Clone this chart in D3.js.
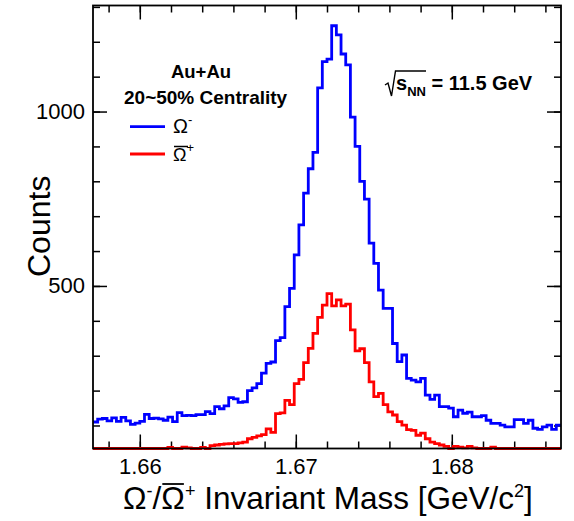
<!DOCTYPE html>
<html>
<head>
<meta charset="utf-8">
<style>
    body { margin: 0; background: #fff; }
    svg { display: block; font-family: 'Liberation Sans', Arial, Helvetica, sans-serif; }
    .bold { font-weight: bold; }
</style>
</head>
<body>
<svg width="574" height="521"></svg>

<script src="https://d3js.org/d3.v7.min.js"></script>
<script>
    // histogram binning: 100 bins of 0.3 MeV starting at 1.657 GeV
    const binLow = 1.657;
    const binWidth = 0.0003;

    // Omega- counts per bin (blue)
    const omegaMinus = [
        110, 118, 120, 113, 122, 112, 123, 113, 103, 107,
        112, 132, 120, 121, 119, 115, 124, 111, 137, 128,
        129, 128, 131, 131, 140, 134, 154, 148, 156, 180,
        176, 166, 168, 200, 208, 220, 250, 278, 282, 343,
        352, 441, 493, 589, 675, 766, 836, 883, 1068, 1143,
        1150, 1246, 1220, 1165, 1134, 984, 900, 800, 749, 623,
        565, 488, 436, 436, 335, 283, 302, 235, 230, 225,
        235, 187, 175, 187, 154, 154, 150, 125, 144, 135,
        138, 125, 125, 128, 115, 106, 106, 101, 96, 96,
        117, 117, 106, 115, 92, 89, 96, 101, 89, 101
    ];

    // anti-Omega+ counts per bin (red)
    const omegaPlusBar = [
        0, 0, 0, 0, 0, 0, 0, 0, 0, 0,
        0, 0, 0, 0, 0, 0, 37, 34, 0, 38,
        36, 0, 0, 37, 34, 42, 44, 46, 47, 48,
        48, 50, 52, 62, 66, 70, 74, 90, 80, 134,
        136, 172, 160, 220, 232, 280, 321, 364, 410, 445,
        478, 443, 460, 443, 448, 374, 314, 320, 280, 225,
        183, 192, 160, 139, 130, 111, 101, 88, 86, 72,
        78, 62, 52, 48, 44, 40, 34, 40, 38, 36,
        40, 36, 30, 30, 30, 38, 0, 0, 0, 0,
        0, 0, 0, 0, 0, 0, 0, 0, 0, 0
    ];

    const xMajor = [1.66, 1.67, 1.68];
    const yMajor = [500, 1000];

    let svg = d3.select("svg");

    let fLeft = 93, fRight = 561, fTop = 5.5, fBottom = 448.5;

    let x = d3.scaleLinear().domain([1.657, 1.687]).range([fLeft, fRight]);
    let y = d3.scaleLinear().domain([34, 1304]).range([fBottom, fTop]);
    let yc = y.copy().clamp(true);

    // minor ticks
    let xMinor = d3.range(0, 15).map(i => +(1.658 + i * 0.002).toFixed(3));
    let yMinor = d3.range(100, 1301, 100);

    function tickAxis(axis, transform) {
        let g = svg.append("g").attr("transform", transform).call(axis);
        g.select(".domain").remove();
        g.selectAll("line").attr("stroke", "#000").attr("stroke-width", 1.5);
        return g;
    }

    // left axis
    tickAxis(d3.axisLeft(y).tickValues(yMinor).tickSize(-7).tickFormat(""), `translate(${fLeft},0)`);
    let gl = tickAxis(d3.axisLeft(y).tickValues(yMajor).tickSize(-14).tickPadding(8).tickFormat(d3.format("d")), `translate(${fLeft},0)`);
    gl.selectAll("text").attr("font-size", 22).attr("fill", "#000").attr("font-family", "'Liberation Sans', Arial, sans-serif");

    // right axis (mirror)
    tickAxis(d3.axisRight(y).tickValues(yMinor).tickSize(-7).tickFormat(""), `translate(${fRight},0)`);
    tickAxis(d3.axisRight(y).tickValues(yMajor).tickSize(-14).tickFormat(""), `translate(${fRight},0)`);

    // bottom axis
    tickAxis(d3.axisBottom(x).tickValues(xMinor).tickSize(-7).tickFormat(""), `translate(0,${fBottom})`);
    let gb = tickAxis(d3.axisBottom(x).tickValues(xMajor).tickSize(-14).tickPadding(10).tickFormat(d3.format(".2f")), `translate(0,${fBottom})`);
    gb.selectAll("text").attr("font-size", 22).attr("fill", "#000").attr("font-family", "'Liberation Sans', Arial, sans-serif");

    // top axis (mirror)
    tickAxis(d3.axisTop(x).tickValues(xMinor).tickSize(-7).tickFormat(""), `translate(0,${fTop})`);
    tickAxis(d3.axisTop(x).tickValues(xMajor).tickSize(-14).tickFormat(""), `translate(0,${fTop})`);

    // histograms as steps
    let line = d3.line()
        .x(d => x(d[0]))
        .y(d => yc(d[1]))
        .curve(d3.curveStepAfter);

    function histPoints(values) {
        let pts = values.map((v, i) => [binLow + i * binWidth, v]);
        pts.push([binLow + values.length * binWidth, values[values.length - 1]]);
        return pts;
    }

    svg.append("path")
        .attr("d", line(histPoints(omegaMinus)))
        .attr("fill", "none")
        .attr("stroke", "#0000ff")
        .attr("stroke-width", 2.8);

    svg.append("path")
        .attr("d", line(histPoints(omegaPlusBar)))
        .attr("fill", "none")
        .attr("stroke", "#ff0000")
        .attr("stroke-width", 2.8);

    // frame
    svg.append("rect")
        .attr("x", fLeft).attr("y", fTop)
        .attr("width", fRight - fLeft).attr("height", fBottom - fTop)
        .attr("fill", "none").attr("stroke", "#000").attr("stroke-width", 1.8);

    // y title
    svg.append("text")
        .attr("transform", "translate(50,277) rotate(-90)")
        .attr("font-size", 32)
        .text("Counts");

    // x title
    let xt = svg.append("text")
        .attr("x", 123).attr("y", 509)
        .attr("font-size", 31.5);
    xt.append("tspan").text("Ω");
    xt.append("tspan").attr("font-size", 18).attr("dy", -12).text("-");
    xt.append("tspan").attr("dy", 12).text("/Ω");
    xt.append("tspan").attr("font-size", 18).attr("dy", -12).text("+");
    xt.append("tspan").attr("dy", 12).text(" Invariant Mass [GeV/c");
    xt.append("tspan").attr("font-size", 18).attr("dy", -12).text("2");
    xt.append("tspan").attr("dy", 12).text("]");
    {
        let n = xt.node();
        // overline over the second Omega (char index 3)
        let s = n.getStartPositionOfChar(3).x, e = n.getEndPositionOfChar(3).x;
        svg.append("line").attr("x1", s + 1).attr("x2", e - 1)
            .attr("y1", 484).attr("y2", 484).attr("stroke", "#000").attr("stroke-width", 1.8);
    }

    // labels
    svg.append("text").attr("class", "bold").attr("x", 201).attr("y", 78)
        .attr("text-anchor", "middle").attr("font-size", 18.5).text("Au+Au");
    svg.append("text").attr("class", "bold").attr("x", 124).attr("y", 104)
        .attr("font-size", 19).text("20~50% Centrality");

    // legend
    svg.append("line").attr("x1", 130).attr("x2", 165).attr("y1", 126.7).attr("y2", 126.7)
        .attr("stroke", "#0000ff").attr("stroke-width", 2.8);
    svg.append("line").attr("x1", 130).attr("x2", 165).attr("y1", 154).attr("y2", 154)
        .attr("stroke", "#ff0000").attr("stroke-width", 2.8);

    let l1 = svg.append("text").attr("x", 173).attr("y", 133).attr("font-size", 20);
    l1.append("tspan").text("Ω");
    l1.append("tspan").attr("font-size", 13).attr("dy", -9).text("-");

    let l2 = svg.append("text").attr("x", 173).attr("y", 161).attr("font-size", 18);
    l2.append("tspan").text("Ω");
    l2.append("tspan").attr("font-size", 13).attr("dy", -9).text("+");
    svg.append("line").attr("x1", 174).attr("x2", 188).attr("y1", 146.5).attr("y2", 146.5)
        .attr("stroke", "#000").attr("stroke-width", 1.5);

    // energy label
    svg.append("path")
        .attr("d", "M385,85 L388,83 L391.5,96 L395.5,71 L426,71")
        .attr("fill", "none").attr("stroke", "#000").attr("stroke-width", 1.4);
    let en = svg.append("text").attr("class", "bold").attr("x", 396).attr("y", 90).attr("font-size", 20);
    en.append("tspan").text("s");
    en.append("tspan").attr("font-size", 13).attr("dy", 6).text("NN");
    en.append("tspan").attr("dy", -6).text(" = 11.5 GeV");
</script>
</body>
</html>
